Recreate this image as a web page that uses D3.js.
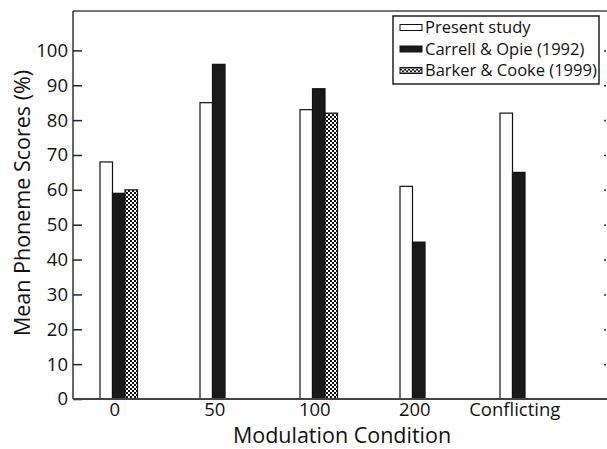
<!DOCTYPE html>
<html><head><meta charset="utf-8">
<script src="https://cdn.jsdelivr.net/npm/d3@7"></script>
<style>
html,body{margin:0;padding:0;background:#fff;}
svg{display:block;font-family:"Open Sans",sans-serif;}
</style></head>
<body>
<svg id="chart" width="607" height="449"></svg>
<script>
const categories = ["0", "50", "100", "200", "Conflicting"];
const seriesNames = ["Present study", "Carrell & Opie (1992)", "Barker & Cooke (1999)"];
const presentStudy = [68, 85, 83, 61, 82];
const carrellOpie = [59, 96, 89, 45, 65];
const barkerCooke = [60, 0, 82, 0, 0];
const yTicks = [0, 10, 20, 30, 40, 50, 60, 70, 80, 90, 100];
const xTitle = "Modulation Condition";
const yTitle = "Mean Phoneme Scores (%)";

const seriesValues = [presentStudy, carrellOpie, barkerCooke];
const data = categories.map((c, i) => ({cat: c, vals: seriesNames.map((s, j) => ({s, v: seriesValues[j][i]}))}));

const svg = d3.select("#chart");
const L = 73, R = 606, T = 11, B = 399;
const FONT = "'Open Sans',sans-serif";

const defs = svg.append("defs");
const pat = defs.append("pattern").attr("id", "checker").attr("patternUnits", "userSpaceOnUse")
  .attr("width", 4).attr("height", 4);
pat.append("rect").attr("width", 4).attr("height", 4).attr("fill", "#111");
pat.append("rect").attr("x", 0).attr("y", 0).attr("width", 2).attr("height", 2).attr("fill", "#fff");
pat.append("rect").attr("x", 2).attr("y", 2).attr("width", 2).attr("height", 2).attr("fill", "#fff");

const fills = d3.scaleOrdinal().domain(seriesNames).range(["#fff", "#1a1a1a", "url(#checker)"]);

const y = d3.scaleLinear().domain([0, 111.3]).range([B, T]);
const x = d3.scaleBand().domain(categories).range([L, 564.5]).paddingInner(0.625).paddingOuter(0.27);
const xs = d3.scaleBand().domain(seriesNames).range([0, x.bandwidth()]);

// frame top line
svg.append("line").attr("x1", L).attr("x2", 607).attr("y1", T).attr("y2", T)
  .attr("stroke", "#444").attr("stroke-width", 1.5);

// bars
const g = svg.append("g");
g.selectAll("g.grp").data(data).join("g").attr("class", "grp")
  .attr("transform", d => `translate(${x(d.cat)},0)`)
  .selectAll("rect").data(d => d.vals).join("rect")
  .attr("x", d => xs(d.s))
  .attr("width", xs.bandwidth())
  .attr("y", d => y(d.v))
  .attr("height", d => B - y(d.v))
  .attr("fill", d => fills(d.s))
  .attr("stroke", "#111")
  .attr("stroke-width", d => d.v === 0 ? 2.5 : 1.2);

// left axis
const yAxis = d3.axisLeft(y).tickValues(yTicks).tickSize(-9).tickPadding(5);
const ga = svg.append("g").attr("transform", `translate(${L},0)`).call(yAxis);
ga.select(".domain").attr("stroke", "#333").attr("stroke-width", 1.5).attr("d", `M0,${T}V${B}`);
ga.selectAll(".tick line").attr("stroke", "#222").attr("stroke-width", 1.5);
ga.selectAll(".tick text").attr("font-size", 18.5).attr("fill", "#111").attr("font-family", FONT);

// right axis tiny ticks
const ra = d3.axisRight(y).tickValues(yTicks.slice(1)).tickSize(-2).tickFormat("");
const gr = svg.append("g").attr("transform", `translate(${R},0)`).call(ra);
gr.select(".domain").remove();
gr.selectAll(".tick line").attr("stroke", "#333").attr("stroke-width", 1.5);

// bottom axis
const xAxis = d3.axisBottom(x).tickSize(0).tickPadding(4);
const gb = svg.append("g").attr("transform", `translate(0,${B})`).call(xAxis);
gb.select(".domain").attr("stroke", "#444").attr("stroke-width", 2).attr("d", `M${L},0H607`);
gb.selectAll(".tick text").attr("font-size", 18.5).attr("fill", "#111").attr("font-family", FONT)
  .attr("dx", -4);

// axis titles
svg.append("text").attr("x", 342).attr("y", 443).attr("text-anchor", "middle")
  .attr("font-size", 21.5).attr("fill", "#111").attr("font-family", FONT).text(xTitle);
svg.append("text").attr("transform", "translate(30,203) rotate(-90)").attr("text-anchor", "middle")
  .attr("font-size", 21.5).attr("fill", "#111").attr("font-family", FONT).text(yTitle);

// legend
const lg = svg.append("g");
lg.append("rect").attr("x", 393).attr("y", 16).attr("width", 206).attr("height", 68)
  .attr("fill", "#fff").attr("stroke", "#222").attr("stroke-width", 1.5);
const rows = lg.selectAll("g.row").data(seriesNames).join("g").attr("class", "row")
  .attr("transform", (d, i) => `translate(0,${27.5 + i * 21.5})`);
rows.append("rect").attr("x", 400).attr("y", -3).attr("width", 22).attr("height", 6)
  .attr("fill", d => fills(d)).attr("stroke", "#111").attr("stroke-width", 1);
rows.append("text").attr("x", 425).attr("y", 0).attr("dy", "0.35em")
  .attr("font-size", 16.5).attr("fill", "#111").attr("font-family", FONT).text(d => d);
</script>
</body></html>
